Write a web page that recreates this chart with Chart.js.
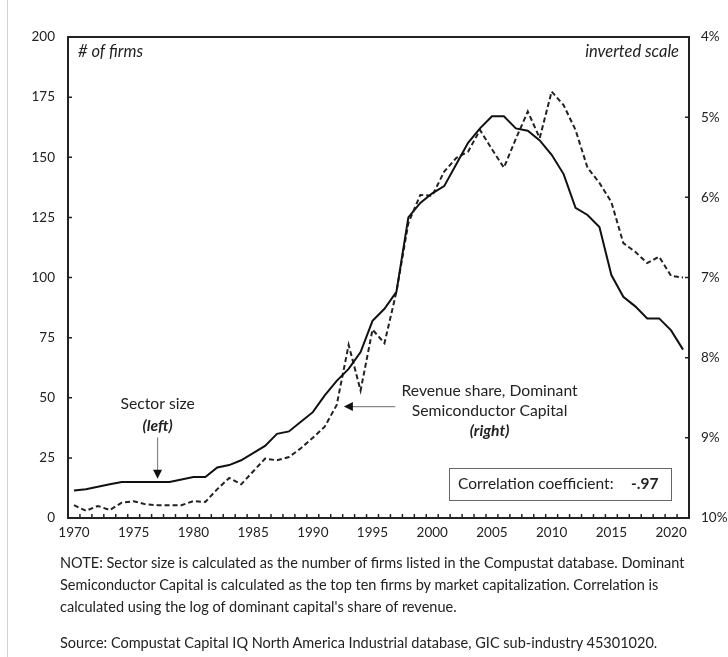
<!DOCTYPE html>
<html>
<head>
<meta charset="utf-8">
<script src="https://cdn.jsdelivr.net/npm/chart.js@4"></script>
<style>
  html, body { margin:0; padding:0; background:#fff; }
  #wrap { position:relative; width:728px; height:657px; overflow:hidden; }
  #frameLine { position:absolute; left:7px; top:0; width:1px; height:657px; background:#d0d0d0; }
  .note { position:absolute; left:60px; font-family:Lato, "Open Sans", sans-serif; font-size:14.5px; color:#222; line-height:22px; white-space:nowrap; }
</style>
</head>
<body>
<div id="wrap">
  <canvas id="c" width="728" height="657"></canvas>
  <div id="frameLine"></div>
  <div class="note" style="top:552px;">NOTE: Sector size is calculated as the number of firms listed in the Compustat database. Dominant<br>Semiconductor Capital is calculated as the top ten firms by market capitalization. Correlation is<br>calculated using the log of dominant capital's share of revenue.</div>
  <div class="note" style="top:632px;">Source: Compustat Capital IQ North America Industrial database, GIC sub-industry 45301020.</div>
</div>
<script>
// ---- data ----
const years = [];
for (let y = 1970; y <= 2021; y++) years.push(String(y));

// Sector size: number of firms (left axis)
const sectorSize = [
  11.4, 12, 13, 14, 15, 15, 15, 15, 15, 16,
  17, 17, 21, 22, 24, 27, 30, 35, 36, 40,
  44, 51, 57, 62, 69, 82, 87, 94, 125, 131,
  135, 138, 147, 156, 162, 167, 167, 162, 161, 157,
  151, 143, 129, 126, 121, 101, 92, 88, 83, 83,
  78, 70
];

// Revenue share of dominant semiconductor capital, % (right axis, inverted)
const revenueShare = [
  9.84, 9.91, 9.85, 9.90, 9.81, 9.79, 9.83, 9.84, 9.84, 9.84,
  9.79, 9.80, 9.64, 9.50, 9.58, 9.42, 9.26, 9.28, 9.24, 9.13,
  9.00, 8.86, 8.59, 7.84, 8.41, 7.65, 7.82, 7.18, 6.32, 5.97,
  5.98, 5.68, 5.51, 5.43, 5.16, 5.40, 5.63, 5.27, 4.93, 5.26,
  4.68, 4.85, 5.16, 5.63, 5.82, 6.06, 6.57, 6.68, 6.82, 6.74,
  6.98, 7.00
];

const leftTicks = [0, 25, 50, 75, 100, 125, 150, 175, 200];
const rightTicks = [4, 5, 6, 7, 8, 9, 10];
const correlation = '-.97';

const FONT = 'Lato, "Open Sans", sans-serif';
const INK = '#222';

function arrowHead(ctx, tipX, tipY, dir) {
  ctx.beginPath();
  if (dir === 'down') {
    ctx.moveTo(tipX, tipY); ctx.lineTo(tipX - 4.5, tipY - 9); ctx.lineTo(tipX + 4.5, tipY - 9);
  } else {
    ctx.moveTo(tipX, tipY); ctx.lineTo(tipX + 9, tipY - 4.5); ctx.lineTo(tipX + 9, tipY + 4.5);
  }
  ctx.closePath();
  ctx.fillStyle = '#111';
  ctx.fill();
}

const decor = {
  id: 'decor',
  afterDraw(chart) {
    const { ctx, chartArea: a, scales } = chart;
    const x = scales.x, yL = scales.yL, yR = scales.yR;
    ctx.save();
    // frame
    ctx.strokeStyle = INK; ctx.lineWidth = 2;
    ctx.strokeRect(a.left, a.top, a.right - a.left, a.bottom - a.top);
    // inward tick marks
    ctx.lineWidth = 1.5;
    ctx.beginPath();
    for (let i = 0; i < years.length - 1; i++) {
      const px = (x.getPixelForValue(i) + x.getPixelForValue(i + 1)) / 2;
      ctx.moveTo(px, a.bottom); ctx.lineTo(px, a.bottom - 4);
    }
    leftTicks.forEach(v => { const py = yL.getPixelForValue(v); ctx.moveTo(a.left, py); ctx.lineTo(a.left + 4, py); });
    rightTicks.forEach(v => { const py = yR.getPixelForValue(v); ctx.moveTo(a.right, py); ctx.lineTo(a.right - 4, py); });
    ctx.stroke();

    // corner labels
    ctx.fillStyle = INK;
    ctx.textBaseline = 'middle';
    ctx.font = 'italic 16.5px ' + FONT;
    ctx.textAlign = 'left';
    ctx.fillText('# of firms', a.left + 10, a.top + 15);
    ctx.textAlign = 'right';
    ctx.fillText('inverted scale', a.right - 10, a.top + 15);

    // Sector size annotation
    const sx = x.getPixelForValue(7);
    ctx.textAlign = 'center';
    ctx.font = '15.7px ' + FONT;
    ctx.fillText('Sector size', sx, yL.getPixelForValue(47.5));
    ctx.font = 'italic bold 15.7px ' + FONT;
    ctx.fillText('(left)', sx, yL.getPixelForValue(38.3));
    const tipY = yL.getPixelForValue(16.3);
    ctx.strokeStyle = '#888'; ctx.lineWidth = 1.2;
    ctx.beginPath(); ctx.moveTo(sx, yL.getPixelForValue(33.5)); ctx.lineTo(sx, tipY - 8); ctx.stroke();
    arrowHead(ctx, sx, tipY, 'down');

    // Revenue share annotation
    const rx = x.getPixelForValue(34.8);
    ctx.fillStyle = INK;
    ctx.font = '15.7px ' + FONT;
    ctx.fillText('Revenue share, Dominant', rx, yR.getPixelForValue(8.41));
    ctx.fillText('Semiconductor Capital', rx, yR.getPixelForValue(8.67));
    ctx.font = 'italic bold 15.7px ' + FONT;
    ctx.fillText('(right)', rx, yR.getPixelForValue(8.92));
    const ay = yR.getPixelForValue(8.61);
    const tipX = x.getPixelForValue(22.6);
    ctx.strokeStyle = '#888'; ctx.lineWidth = 1.2;
    ctx.beginPath(); ctx.moveTo(x.getPixelForValue(26.9), ay); ctx.lineTo(tipX + 8, ay); ctx.stroke();
    arrowHead(ctx, tipX, ay, 'left');

    // Correlation box
    const bx0 = x.getPixelForValue(31.4), bx1 = x.getPixelForValue(50.0);
    const by0 = yR.getPixelForValue(9.38), by1 = yR.getPixelForValue(9.78);
    ctx.strokeStyle = '#666'; ctx.lineWidth = 1;
    ctx.strokeRect(Math.round(bx0) + 0.5, Math.round(by0) + 0.5, Math.round(bx1 - bx0), Math.round(by1 - by0));
    const cy = (by0 + by1) / 2;
    ctx.fillStyle = INK;
    ctx.textAlign = 'left';
    ctx.font = '15.5px ' + FONT;
    ctx.fillText('Correlation coefficient:', bx0 + 9, cy);
    ctx.font = 'bold 15.5px ' + FONT;
    ctx.fillText(correlation, bx0 + 182, cy);
    ctx.restore();
  }
};

new Chart(document.getElementById('c'), {
  type: 'line',
  data: {
    labels: years,
    datasets: [
      {
        label: 'Sector size (left)',
        data: sectorSize,
        yAxisID: 'yL',
        borderColor: '#111',
        borderWidth: 2,
        pointRadius: 0,
        tension: 0,
        fill: false
      },
      {
        label: 'Revenue share, Dominant Semiconductor Capital (right)',
        data: revenueShare,
        yAxisID: 'yR',
        borderColor: '#222',
        borderWidth: 2,
        borderDash: [5, 3],
        pointRadius: 0,
        tension: 0,
        fill: false
      }
    ]
  },
  options: {
    responsive: false,
    animation: false,
    devicePixelRatio: 1,
    layout: { padding: { left: 0, right: 0, top: 37, bottom: 119 } },
    plugins: { legend: { display: false }, tooltip: { enabled: false } },
    scales: {
      x: {
        type: 'category',
        offset: true,
        grid: { display: false, drawTicks: false },
        border: { display: false },
        ticks: {
          autoSkip: false, maxRotation: 0, minRotation: 0, padding: 7,
          color: INK, font: { family: FONT, size: 13.5 },
          callback: function (v, i) { const y = Number(years[i]); return y % 5 === 0 ? String(y) : ''; }
        },
        afterFit: s => { s.height = 20; }
      },
      yL: {
        position: 'left',
        min: 0, max: 200,
        grid: { display: false, drawTicks: false },
        border: { display: false },
        ticks: { stepSize: 25, padding: 13, color: INK, font: { family: FONT, size: 13.5 } },
        afterFit: s => { s.width = 68; }
      },
      yR: {
        position: 'right',
        min: 4, max: 10, reverse: true,
        grid: { display: false, drawTicks: false },
        border: { display: false },
        ticks: { stepSize: 1, padding: 12, color: INK, font: { family: FONT, size: 13.5 }, callback: v => v + '%' },
        afterFit: s => { s.width = 39; }
      }
    }
  },
  plugins: [decor]
});
</script>
</body>
</html>
